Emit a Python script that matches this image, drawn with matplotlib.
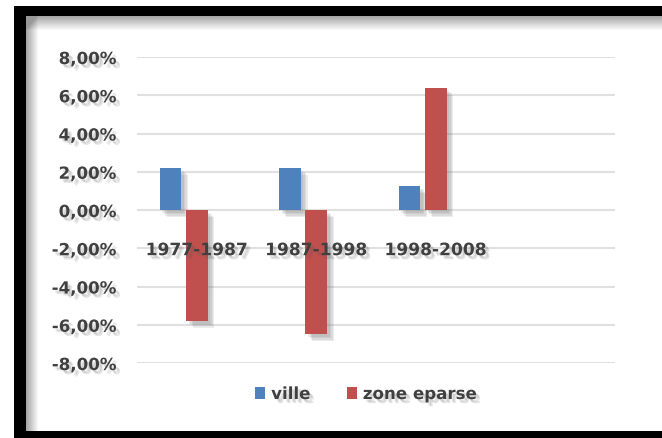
import numpy as np
import matplotlib
matplotlib.use("Agg")
import matplotlib.pyplot as plt
from matplotlib.patches import Rectangle
from matplotlib.ticker import FuncFormatter, MultipleLocator
import matplotlib.patheffects as pe

categories = ["1977-1987", "1987-1998", "1998-2008"]
ville = [2.2, 2.2, 1.25]
zone_eparse = [-5.8, -6.5, 6.4]
series_names = ["ville", "zone eparse"]

W, H = 662, 439
fig = plt.figure(figsize=(W / 100, H / 100), dpi=100)
fig.patch.set_facecolor("white")

def fx(px):
    return px / W

def fy(py):
    return 1 - py / H

# background with soft inner shadow along top/left edges of frame
bg = fig.add_axes([0, 0, 1, 1], zorder=-5)
img = np.ones((H, W, 3))
yy, xx = np.mgrid[0:H, 0:W]
dt = np.clip((yy - 17) / 14.0, 0, 1)
dl = np.clip((xx - 26) / 12.0, 0, 1)
inside = (yy >= 17) * (xx >= 26)
shade = 1 - 0.35 * (1 - dt) * inside - 0.35 * (1 - dl) * inside
shade = np.clip(shade, 0.6, 1)
img *= shade[..., None]
bg.imshow(img, extent=[0, W, H, 0], aspect="auto", interpolation="bilinear")
bg.set_xlim(0, W)
bg.set_ylim(H, 0)
bg.axis("off")

# black frame
for (x0, y0, x1, y1) in [(14, 7, W, 17), (14, 7, 26, H), (14, 432, W, H)]:
    fig.add_artist(Rectangle((fx(x0), fy(y1)), fx(x1) - fx(x0), fy(y0) - fy(y1),
                             transform=fig.transFigure, facecolor="black",
                             edgecolor="none", zorder=5))

# main axes
ax_left, ax_right, ax_top, ax_bot = 137, 615, 58, 364
ax = fig.add_axes([fx(ax_left), fy(ax_bot), fx(ax_right) - fx(ax_left), fy(ax_top) - fy(ax_bot)])
ax.set_facecolor("none")
ax.set_ylim(-8, 8)
ax.set_xlim(-0.5, 3.5)  # four category slots, three filled

x = np.arange(len(categories))
bw = 0.18
off = 0.22
def soft(alpha, n=3, color="#6f6f6f"):
    effs = [pe.SimplePatchShadow(offset=(k, -k), shadow_rgbFace=color, alpha=alpha) for k in range(2, 2 + n)]
    return effs + [pe.Normal()]

b1 = ax.bar(x - off, ville, width=bw, color="#4f81bd", zorder=3, label=series_names[0])
b2 = ax.bar(x, zone_eparse, width=bw, color="#c0504d", zorder=3, label=series_names[1])
for b in list(b1) + list(b2):
    b.set_path_effects(soft(0.13, 4))

ax.yaxis.set_major_locator(MultipleLocator(2))
ax.yaxis.set_major_formatter(FuncFormatter(lambda v, p: f"{v:.2f}%".replace(".", ",")))
ax.grid(axis="y", color="#e0e0e0", linewidth=1.5, zorder=0)
ax.set_axisbelow(True)
for s in ax.spines.values():
    s.set_visible(False)
ax.set_xticks([])
ax.tick_params(axis="y", length=0, pad=15)

txt_shadow = soft(0.15, 2, "#555555")
for lab in ax.get_yticklabels():
    lab.set_fontsize(12)
    lab.set_fontweight("bold")
    lab.set_color("#404040")
    lab.set_path_effects(txt_shadow)

for i, c in enumerate(categories):
    ax.text(i, -2.1, c, ha="center", va="center", fontsize=12.3, fontweight="bold",
            color="#404040", zorder=5, path_effects=txt_shadow)

handles = [Rectangle((0, 0), 1, 1, facecolor="#4f81bd"), Rectangle((0, 0), 1, 1, facecolor="#c0504d")]
leg = fig.legend(handles, series_names, loc="center", bbox_to_anchor=(fx(366), fy(395)),
                 ncol=2, frameon=False, handlelength=0.6, handleheight=0.7,
                 handletextpad=0.35, columnspacing=2.2, prop={"size": 12, "weight": "bold"})
for t in leg.get_texts():
    t.set_color("#404040")
    t.set_path_effects(txt_shadow)

fig.savefig("out.png", dpi=100)
